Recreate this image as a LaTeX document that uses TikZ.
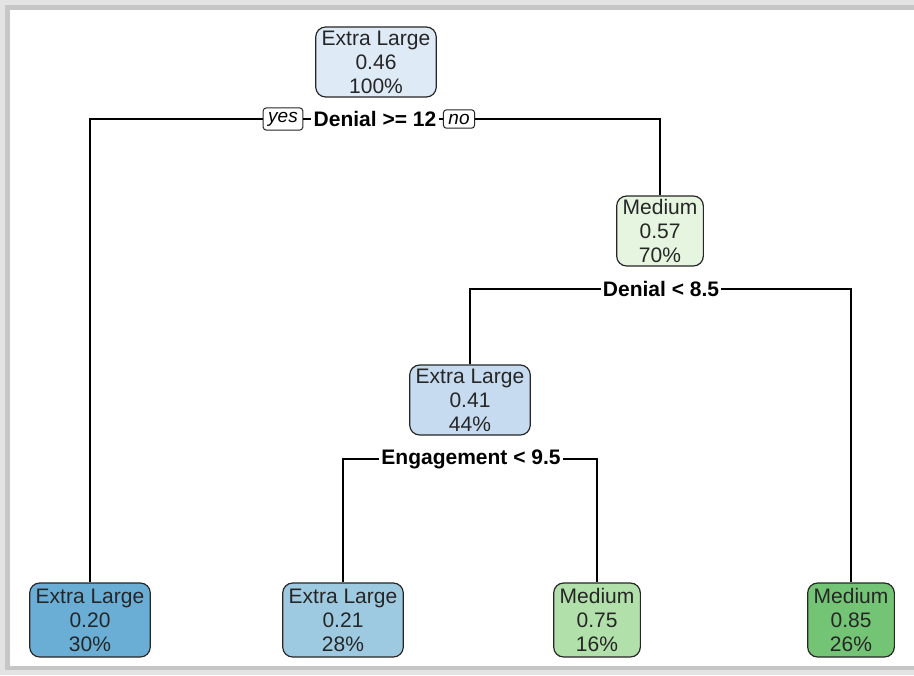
\documentclass[tikz,border=0pt]{standalone}
\usepackage{fontspec}
\setmainfont{Liberation Sans}
\usetikzlibrary{calc}

\definecolor{bluea}{HTML}{DEEAF6}
\definecolor{blueb}{HTML}{C6DBEF}
\definecolor{bluec}{HTML}{9ECAE1}
\definecolor{blued}{HTML}{6AAED6}
\definecolor{greena}{HTML}{E5F5E0}
\definecolor{greenb}{HTML}{B2E0AA}
\definecolor{greenc}{HTML}{74C476}

\tikzset{
    leafbox/.style={draw=black!85, line width=0.6pt, rounded corners=5pt,
        align=center, inner xsep=3pt, inner ysep=1.5pt, minimum height=35pt,
        font=\fontsize{10.5}{12}\selectfont, text=black!85},
    splitlab/.style={fill=white, inner sep=1pt, font=\fontsize{10.5}{12}\selectfont\bfseries},
    yesno/.style={draw=black!85, line width=0.5pt, rounded corners=1.5pt, fill=white,
        inner xsep=2.5pt, inner ysep=2pt, font=\fontsize{9.5}{10}\selectfont\itshape}
}

\begin{document}
\begin{tikzpicture}[x=0.5pt,y=-0.5pt]
    % frame
    \useasboundingbox (0,0) rectangle (914,675);
    \fill[gray!22] (0,0) rectangle (914,675);
    \fill[gray!45] (5,5) rectangle (920,670);
    \fill[white] (10,10) rectangle (920,666);

    % nodes
    \node (root) at (376,62) [leafbox, fill=bluea] {Extra Large\\0.46\\100\%};
    \node (med) at (660,231) [leafbox, fill=greena] {Medium\\0.57\\70\%};
    \node (xl) at (470,400) [leafbox, fill=blueb] {Extra Large\\0.41\\44\%};
    \node (leafA) at (90,620) [leafbox, fill=blued, minimum height=37pt] {Extra Large\\0.20\\30\%};
    \node (leafB) at (343,620) [leafbox, fill=bluec, minimum height=37pt] {Extra Large\\0.21\\28\%};
    \node (leafC) at (597,620) [leafbox, fill=greenb, minimum height=37pt] {Medium\\0.75\\16\%};
    \node (leafD) at (851,620) [leafbox, fill=greenc, minimum height=37pt] {Medium\\0.85\\26\%};

    % splits
    \node (split1) at (375,119) [splitlab] {Denial >= 12};
    \node (yes) at (283,119) [yesno] {yes};
    \node (no) at (459,119) [yesno] {no};
    \node (split2) at (661,289) [splitlab] {Denial < 8.5};
    \node (split3) at (471,459) [splitlab] {Engagement < 9.5};

    % branches
    \draw[line width=0.6pt] (leafA.north) |- (yes.west);
    \draw[line width=0.6pt] (yes.east) -- (split1.west);
    \draw[line width=0.6pt] (split1.east) -- (no.west);
    \draw[line width=0.6pt] (no.east) -| (med.north);
    \draw[line width=0.6pt] (xl.north) |- (split2.west);
    \draw[line width=0.6pt] (split2.east) -| (leafD.north);
    \draw[line width=0.6pt] (leafB.north) |- (split3.west);
    \draw[line width=0.6pt] (split3.east) -| (leafC.north);
\end{tikzpicture}
\end{document}
